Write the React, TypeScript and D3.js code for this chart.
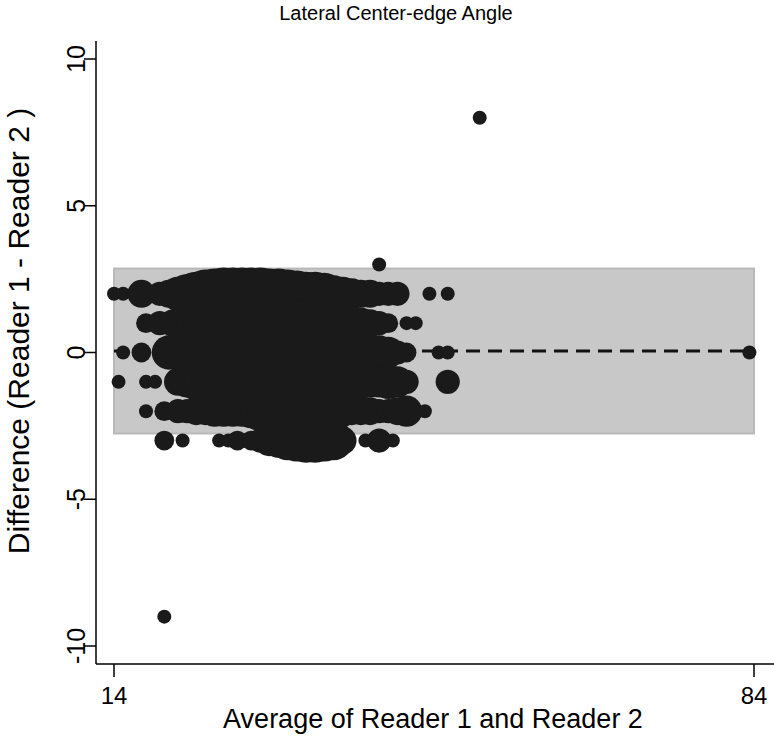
import React, { useEffect, useRef } from "react";
import * as d3 from "d3";

// [average, count] per difference row
const diffPlus8 = [[54, 1]];
const diffPlus3 = [[43, 1]];
const diffPlus2 = [
  [14, 1], [15, 1], [17, 4], [19, 3], [20, 4], [21, 6], [22, 8], [23, 10], [24, 12],
  [25, 13], [26, 14], [27, 14], [28, 14], [29, 14], [30, 14], [31, 13], [32, 13],
  [33, 12], [34, 11], [35, 10], [36, 10], [37, 9], [38, 7], [39, 6], [40, 5], [41, 4],
  [42, 4], [43, 3], [44, 3], [45, 3], [48.5, 1], [50.5, 1],
];
const diffPlus1 = [
  [17.5, 2], [19, 3], [20.5, 4], [22, 6], [23, 8], [24, 10], [25, 12], [26, 13],
  [27, 14], [28, 14], [29, 15], [30, 15], [31, 14], [32, 14], [33, 13], [34, 12],
  [35, 11], [36, 10], [37, 9], [38, 8], [39, 7], [40, 6], [41, 5], [42, 4], [43, 3],
  [44, 2], [46, 1], [47, 1],
];
const diffZero = [
  [15, 1], [17, 2], [20, 6], [21, 6], [22, 8], [23, 10], [24, 12], [25, 14], [26, 15],
  [27, 16], [28, 16], [29, 16], [30, 16], [31, 16], [32, 15], [33, 14], [34, 13],
  [35, 12], [36, 11], [37, 10], [38, 9], [39, 8], [40, 8], [41, 7], [42, 7], [43, 6],
  [44, 5], [45, 3], [46, 2], [49.5, 1], [50.5, 1], [83.5, 1],
];
const diffMinus1 = [
  [14.5, 1], [17.5, 1], [18.5, 1], [21, 4], [22, 5], [23, 7], [24, 9], [25, 11],
  [26, 13], [27, 14], [28, 15], [29, 15], [30, 15], [31, 14], [32, 14], [33, 13],
  [34, 12], [35, 11], [36, 10], [37, 9], [38, 8], [39, 8], [40, 7], [41, 6], [42, 5],
  [43, 5], [44, 6], [45, 5], [46, 3], [50.5, 3],
];
const diffMinus2 = [
  [17.5, 1], [19.5, 2], [21, 3], [22, 3], [23, 4], [24, 4], [25, 5], [26, 5], [27, 5],
  [28, 5], [29, 6], [30, 8], [31, 10], [32, 12], [33, 12], [34, 12], [35, 11],
  [36, 10], [37, 9], [38, 6], [39, 5], [40, 4], [41, 4], [42, 4], [43, 3], [44, 3],
  [45, 4], [46, 5], [48, 1],
];
const diffMinus3 = [
  [19.5, 2], [21.5, 1], [25.5, 1], [26.5, 1], [27.5, 2], [29, 2], [30, 3], [31, 5],
  [32, 6], [33, 8], [34, 9], [35, 10], [36, 10], [37, 9], [38, 8], [39, 4],
  [41.5, 1], [43, 3], [44.5, 1],
];
const diffMinus9 = [[19.5, 1]];

const meanDiff = 0.05;
const upperLimit = 2.86;
const lowerLimit = -2.76;

const xTicks = [14, 84];
const yTicks = [-10, -5, 0, 5, 10];

const rows: [number, number[][]][] = [
  [8, diffPlus8], [3, diffPlus3], [2, diffPlus2], [1, diffPlus1], [0, diffZero],
  [-1, diffMinus1], [-2, diffMinus2], [-3, diffMinus3], [-9, diffMinus9],
];

export default function App() {
  const ref = useRef<SVGSVGElement>(null);

  useEffect(() => {
    const svg = d3.select(ref.current);
    svg.selectAll("*").remove();

    const font = "'Liberation Sans', Arial, Helvetica, sans-serif";
    const ink = "#1a1a1a";

    const x = d3.scaleLinear().domain([14, 84]).range([114, 754]);
    const y = d3.scaleLinear().domain([-10, 10]).range([646, 59]);
    const r = d3.scaleSqrt().domain([0, 1]).range([0, 7]);

    const points = rows.flatMap(([diff, list]) =>
      list.map(([avg, n]) => ({ avg, diff, n }))
    );

    // limits of agreement band
    svg.append("rect")
      .attr("x", x(14))
      .attr("y", y(upperLimit))
      .attr("width", x(84) - x(14))
      .attr("height", y(lowerLimit) - y(upperLimit))
      .attr("fill", "#c8c8c8")
      .attr("stroke", "#b9b9b9")
      .attr("stroke-width", 2);

    svg.append("line")
      .attr("x1", x(14))
      .attr("x2", x(84))
      .attr("y1", y(meanDiff))
      .attr("y2", y(meanDiff))
      .attr("stroke", "#111")
      .attr("stroke-width", 3)
      .attr("stroke-dasharray", "14 8");

    svg.append("g")
      .selectAll("circle")
      .data(points)
      .join("circle")
      .attr("cx", d => x(d.avg))
      .attr("cy", d => y(d.diff))
      .attr("r", d => r(d.n))
      .attr("fill", ink);

    // axes
    const axisY = 664;
    const axisX = 96;

    svg.append("line")
      .attr("x1", axisX).attr("x2", axisX)
      .attr("y1", 41).attr("y2", axisY)
      .attr("stroke", "#000").attr("stroke-width", 1.5);

    svg.append("line")
      .attr("x1", axisX).attr("x2", 774)
      .attr("y1", axisY).attr("y2", axisY)
      .attr("stroke", "#000").attr("stroke-width", 1.5);

    const yg = svg.append("g");
    yg.selectAll("line")
      .data(yTicks)
      .join("line")
      .attr("x1", axisX - 12).attr("x2", axisX)
      .attr("y1", d => y(d)).attr("y2", d => y(d))
      .attr("stroke", "#000").attr("stroke-width", 1.5);
    yg.selectAll("text")
      .data(yTicks)
      .join("text")
      .attr("transform", d => `translate(85,${y(d)}) rotate(-90)`)
      .attr("text-anchor", "middle")
      .attr("font-family", font)
      .attr("font-size", 25)
      .attr("fill", "#000")
      .text(d => d);

    const xg = svg.append("g");
    xg.selectAll("line")
      .data(xTicks)
      .join("line")
      .attr("x1", d => x(d)).attr("x2", d => x(d))
      .attr("y1", axisY).attr("y2", axisY + 13)
      .attr("stroke", "#000").attr("stroke-width", 1.5);
    xg.selectAll("text")
      .data(xTicks)
      .join("text")
      .attr("x", d => x(d))
      .attr("y", 704)
      .attr("text-anchor", "middle")
      .attr("font-family", font)
      .attr("font-size", 24)
      .attr("fill", "#000")
      .text(d => d);

    svg.append("text")
      .attr("x", 433)
      .attr("y", 728)
      .attr("text-anchor", "middle")
      .attr("font-family", font)
      .attr("font-size", 27)
      .attr("fill", "#000")
      .text("Average of Reader 1 and Reader 2");

    svg.append("text")
      .attr("transform", "translate(29,331) rotate(-90)")
      .attr("text-anchor", "middle")
      .attr("font-family", font)
      .attr("font-size", 30)
      .attr("fill", "#000")
      .text("Difference (Reader 1 - Reader 2 )");

    svg.append("text")
      .attr("x", 396)
      .attr("y", 20)
      .attr("text-anchor", "middle")
      .attr("font-family", font)
      .attr("font-size", 20)
      .attr("fill", "#000")
      .text("Lateral Center-edge Angle");
  }, []);

  return (
    <svg
      ref={ref}
      width={774}
      height={745}
      style={{ position: "absolute", left: 0, top: 0, background: "#fff" }}
    />
  );
}
